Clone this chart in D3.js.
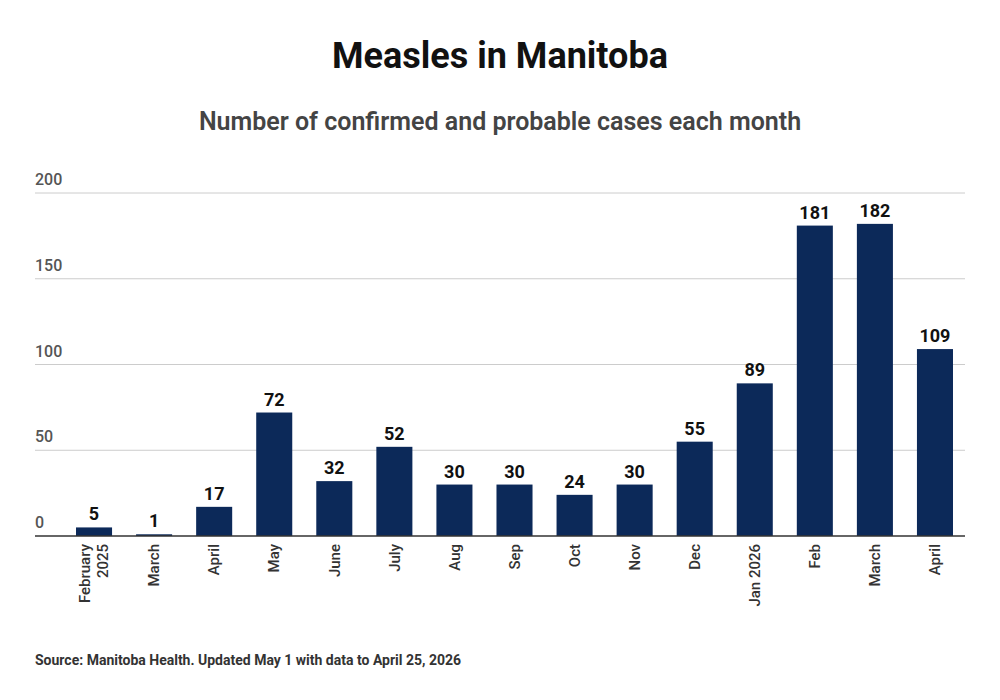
<!DOCTYPE html>
<html><head><meta charset="utf-8">
<script src="https://cdn.jsdelivr.net/npm/d3@7"></script>
<style>body{margin:0;background:#fff;font-family:Roboto,"Noto Sans",sans-serif}</style>
</head><body><div id="chart"></div>
<script>
const months = ['February|2025','March','April','May','June','July','Aug','Sep','Oct','Nov','Dec','Jan 2026','Feb','March ','April '];
const cases = [5,1,17,72,32,52,30,30,24,30,55,89,181,182,109];
const yTicks = [0,50,100,150,200];

const W = 1000, H = 700;
const svg = d3.select('#chart').append('svg').attr('width', W).attr('height', H);

const x = d3.scaleBand().domain(months).range([64, 965]).paddingInner(0.4).paddingOuter(0.2);
const y = d3.scaleLinear().domain([0, 200]).range([536, 193]);

svg.append('text').attr('x', 500).attr('y', 68).attr('text-anchor', 'middle')
  .attr('font-size', 36).attr('font-weight', 700).attr('fill', '#111').text('Measles in Manitoba');
svg.append('text').attr('x', 500).attr('y', 130).attr('text-anchor', 'middle')
  .attr('font-size', 25).attr('font-weight', 600).attr('fill', '#444').text('Number of confirmed and probable cases each month');

const grid = svg.append('g');
grid.selectAll('line').data(yTicks.slice(1)).enter().append('line')
  .attr('x1', 35).attr('x2', 965).attr('y1', d => y(d)).attr('y2', d => y(d))
  .attr('stroke', '#ccc').attr('stroke-width', 1);
grid.selectAll('text').data(yTicks).enter().append('text')
  .attr('x', 35).attr('y', d => y(d) - 8).attr('font-size', 16).attr('font-weight', 500)
  .attr('fill', '#555').text(d => d);

svg.append('g').selectAll('rect').data(cases).enter().append('rect')
  .attr('x', (d, i) => x(months[i])).attr('width', x.bandwidth())
  .attr('y', d => y(d)).attr('height', d => y(0) - y(d)).attr('fill', '#0c2959');

svg.append('g').selectAll('text').data(cases).enter().append('text')
  .attr('x', (d, i) => x(months[i]) + x.bandwidth() / 2).attr('y', d => y(d) - 7)
  .attr('text-anchor', 'middle').attr('font-size', 18).attr('font-weight', 700).attr('fill', '#111')
  .text(d => d);

svg.append('line').attr('x1', 35).attr('x2', 965).attr('y1', y(0)).attr('y2', y(0))
  .attr('stroke', '#333').attr('stroke-width', 1.5);

const xl = svg.append('g').selectAll('text').data(months).enter().append('text')
  .attr('transform', d => `translate(${x(d) + x.bandwidth() / 2},544) rotate(-90)`)
  .attr('text-anchor', 'end').attr('font-size', 15).attr('font-weight', 500).attr('fill', '#333');
xl.each(function(d) {
  const parts = d.trim().split('|');
  const t = d3.select(this);
  parts.forEach((p, i) => {
    t.append('tspan').attr('x', 0)
      .attr('dy', parts.length === 1 ? '0.35em' : (i === 0 ? '-0.25em' : '1.15em')).text(p);
  });
});

svg.append('text').attr('x', 35).attr('y', 665).attr('font-size', 14).attr('font-weight', 700)
  .attr('fill', '#333').text('Source: Manitoba Health. Updated May 1 with data to April 25, 2026');
</script></body></html>
